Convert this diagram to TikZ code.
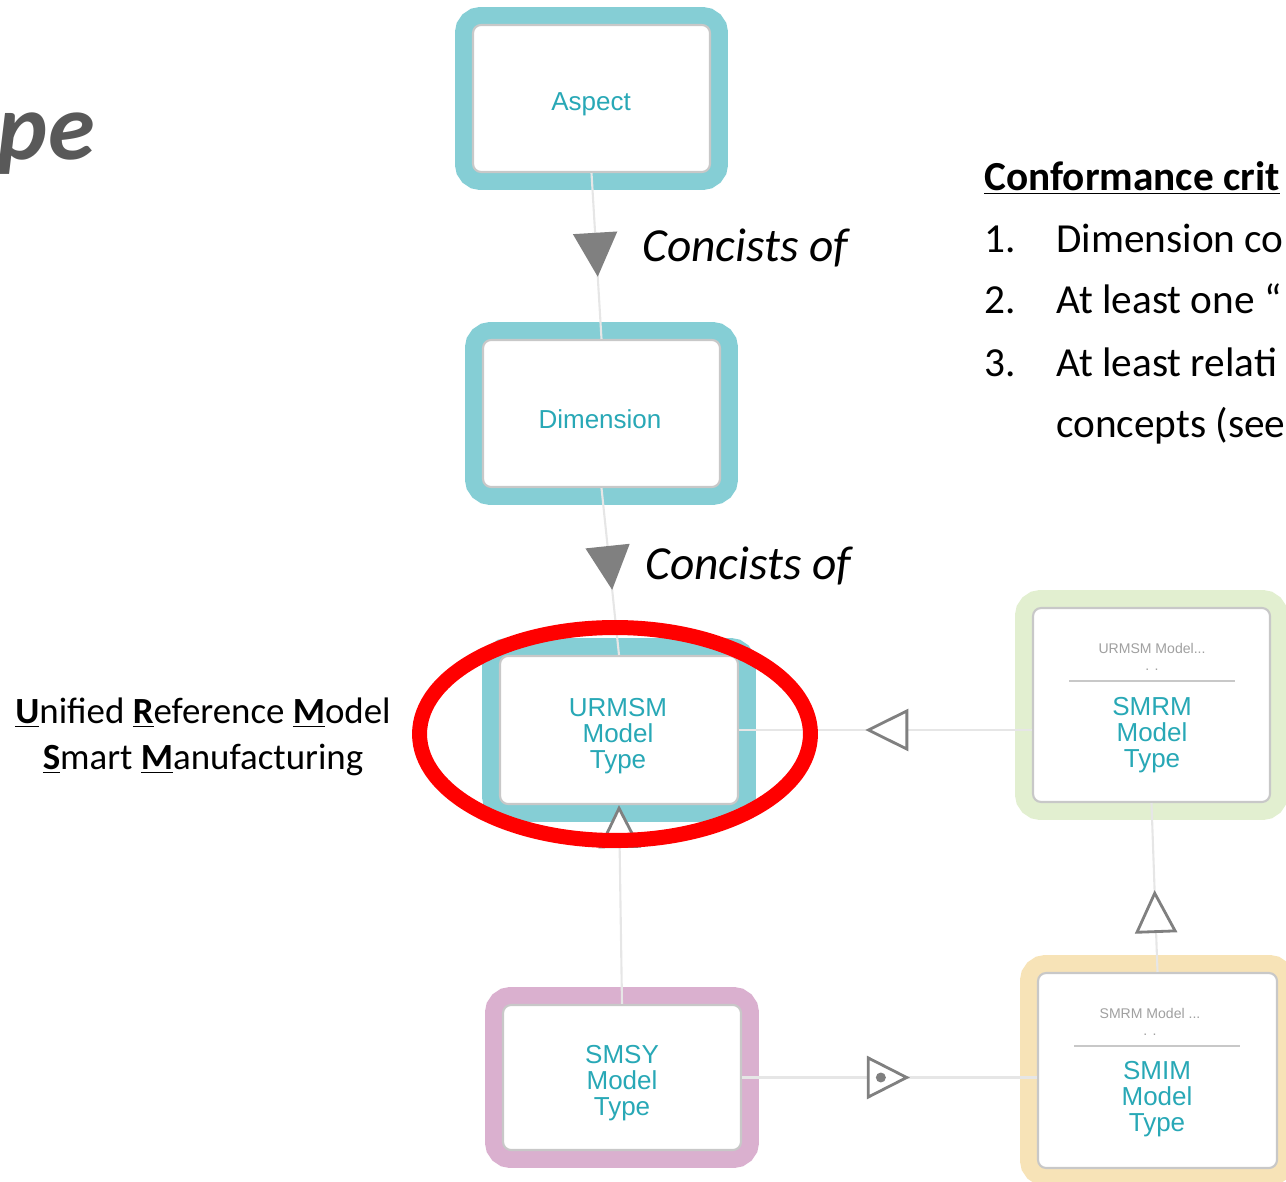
\documentclass[tikz,border=0pt]{standalone}
\usepackage{fontspec}
\setmainfont{Carlito}
\newfontfamily\arialfont{Liberation Sans}
\usetikzlibrary{arrows.meta,decorations.markings}

\definecolor{aspectteal}{RGB}{133,206,213}
\definecolor{smrmgreen}{RGB}{226,239,208}
\definecolor{smsypink}{RGB}{218,176,207}
\definecolor{smimyellow}{RGB}{247,227,183}
\definecolor{nameteal}{RGB}{40,168,182}
\definecolor{boxgray}{RGB}{200,200,200}
\definecolor{linegray}{RGB}{230,230,230}
\definecolor{tipgray}{RGB}{128,128,128}
\definecolor{hdrgray}{RGB}{160,160,160}
\definecolor{titlegray}{RGB}{89,89,89}

\newcommand{\boxfont}{\arialfont\fontsize{14.8pt}{14.8pt}\selectfont}
\newcommand{\hdrfont}{\arialfont\fontsize{8pt}{8pt}\selectfont}

\begin{document}
\begin{tikzpicture}[x=0.02cm,y=-0.02cm,
    umlbox/.style={rectangle,rounded corners=0.16cm,fill=white,draw=boxgray,line width=1.2pt,
      minimum width=4.74cm,minimum height=2.94cm,inner sep=0pt,
      preaction={draw=#1,line width=0.72cm}},
    typename/.style={align=center,font=\boxfont,text=nameteal,inner sep=0pt},
    hdr/.style={font=\hdrfont,text=hdrgray,inner sep=0pt},
    crit/.style={font=\fontsize{23.5pt}{23.5pt}\selectfont,inner sep=0pt,anchor=base west},
    conn/.style={draw=linegray,line width=1.2pt},
    consists/.style={postaction={decorate},decoration={markings,mark=at position #1 with
      {\arrow{Triangle[length=0.88cm,width=0.88cm,color=tipgray]}}}},
    general/.style={postaction={decorate},decoration={markings,mark=at position #1 with
      {\arrow{Triangle[open,length=0.86cm,width=0.84cm,line width=1.6pt,color=tipgray,fill=white]}}}},
    depends/.style={postaction={decorate},decoration={markings,mark=at position #1 with
      {\arrow{Triangle[open,length=0.86cm,width=0.86cm,line width=1.6pt,color=tipgray,fill=white]}
       \fill[tipgray] (-0.58cm,0) circle (0.1cm);}}}]
  \useasboundingbox (0,0) rectangle (1286,1182);

  % title rest and side texts
  \node[font=\fontsize{54pt}{54pt}\selectfont\bfseries\itshape,text=titlegray,
    anchor=base east,inner sep=0pt] (title) at (95,160) {pe};
  \node[font=\fontsize{23.5pt}{23.5pt}\selectfont\bfseries,anchor=base west,inner sep=0pt]
    (crithead) at (984,191) {\underline{Conformance crit}};
  \foreach \n/\t/\y [count=\i] in {1./Dimension co/253,2./At least one “/314,3./At least relati/377}{
    \node[crit] (num\i) at (984,\y) {\n};
    \node[crit] (crit\i) at (1056,\y) {\t};
  }
  \node[crit] (crit4) at (1056,438) {concepts (see};
  \node[font=\fontsize{21pt}{26.2pt}\selectfont,align=center,inner sep=0pt] (urmsmlabel) at (203,737)
    {\underline{\textbf{U}}nified \underline{\textbf{R}}eference \underline{\textbf{M}}odel\\
     \underline{\textbf{S}}mart \underline{\textbf{M}}anufacturing};

  % model boxes
  \node[umlbox=aspectteal] (aspect) at (591.5,98.5) {};
  \node[typename] (aspectname) at (591,104.5) {Aspect};
  \node[umlbox=aspectteal] (dimension) at (601.5,413.5) {};
  \node[typename] (dimensionname) at (600,419.5) {Dimension};
  \node[umlbox=aspectteal,minimum width=4.76cm,minimum height=2.96cm] (urmsm) at (619,730) {};
  \node[typename] (urmsmname) at (618,736) {URMSM\\Model\\Type};
  \node[umlbox=smsypink,minimum width=4.76cm,minimum height=2.9cm] (smsy) at (622,1077.5) {};
  \node[typename] (smsyname) at (622,1083) {SMSY\\Model\\Type};
  \node[umlbox=smrmgreen,minimum height=3.88cm] (smrm) at (1151.5,705) {};
  \node[typename] (smrmname) at (1152,735) {SMRM\\Model\\Type};
  \node[hdr] (smrmhdr) at (1152,648) {URMSM Model...};
  \node[hdr] (smrmdots) at (1152,670) {. .};
  \draw[boxgray,line width=0.8pt] (1069,681) -- (1235,681);
  \node[umlbox=smimyellow,minimum width=4.78cm,minimum height=3.9cm] (smim) at (1157.5,1070.5) {};
  \node[typename] (smimname) at (1157,1099) {SMIM\\Model\\Type};
  \node[hdr] (smimhdr) at (1150,1013) {SMRM Model ...};
  \node[hdr] (smimdots) at (1150,1035) {. .};
  \draw[boxgray,line width=0.8pt] (1074,1046) -- (1240,1046);

  % connectors
  \path[conn,consists=0.625] (aspect.south) -- (dimension.north);
  \path[conn,consists=0.61] (dimension.south) -- (urmsm.north);
  \path[conn,general=0.569] (smrm.west |- urmsm.east) -- (urmsm.east);
  \path[conn,general=0.485] (smim.north) -- (smrm.south);
  \path[conn,-{Triangle[open,length=0.86cm,width=0.84cm,line width=1.6pt,color=tipgray,fill=white]}]
    (smsy.north) -- (urmsm.south);
  \path[conn,depends=0.569] (smsy.east) -- (smim.west |- smsy.east);
  \node[font=\fontsize{27pt}{27pt}\selectfont\itshape,anchor=base west,inner sep=0pt] (cons1) at (642,262) {Concists of};
  \node[font=\fontsize{27pt}{27pt}\selectfont\itshape,anchor=base west,inner sep=0pt] (cons2) at (645,580) {Concists of};

  % highlight
  \draw[red,line width=0.3cm] (urmsm.center) ++(-4,4) ellipse [x radius=3.91cm,y radius=2.13cm];
\end{tikzpicture}
\end{document}
